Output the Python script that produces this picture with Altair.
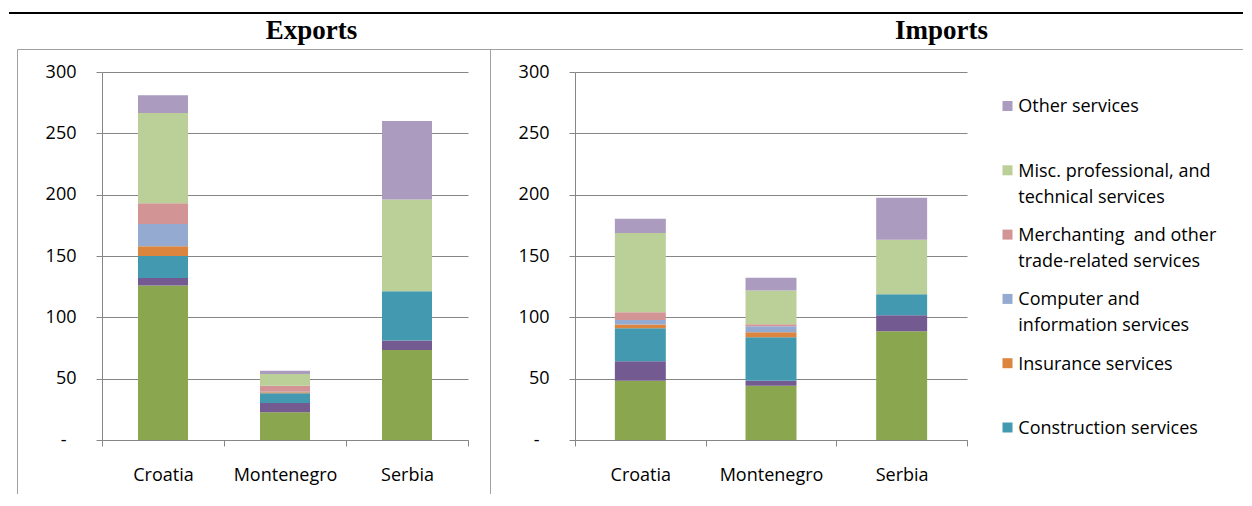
import altair as alt
import pandas as pd

countries = ["Croatia", "Montenegro", "Serbia"]

series = [
    "Manufacturing services",
    "Maintenance and repair services",
    "Construction services",
    "Insurance services",
    "Computer and information services",
    "Merchanting and other trade-related services",
    "Misc. professional, and technical services",
    "Other services",
]
colors = ["#8AA64E", "#735A91", "#4399B0", "#DC853E", "#94AAD0", "#D29494", "#BBCF98", "#AA9BBF"]

# values bottom -> top, one list per country
exports_croatia = [126.0, 6.0, 18.0, 8.0, 18.0, 17.0, 73.5, 14.5]
exports_montenegro = [22.6, 7.6, 7.9, 0.8, 0.4, 5.0, 9.5, 2.7]
exports_serbia = [73.4, 7.7, 40.2, 0.0, 0.0, 0.0, 74.8, 64.0]

imports_croatia = [48.4, 15.8, 26.9, 3.0, 3.8, 6.3, 64.5, 11.7]
imports_montenegro = [44.3, 4.1, 35.4, 4.1, 4.9, 1.6, 27.5, 10.3]
imports_serbia = [88.7, 13.0, 17.2, 0.0, 0.0, 0.0, 44.3, 34.3]

y_ticks = [0, 50, 100, 150, 200, 250, 300]

legend_series = series[7:1:-1]
legend_labels = [
    "Other services",
    "Misc. professional, and\ntechnical services",
    "Merchanting\u00a0 and other\ntrade-related services",
    "Computer and\ninformation services",
    "Insurance services",
    "Construction services",
]

FONT = "Open Sans"
GRAY = "#868686"


def long_df(rows):
    recs = []
    for country, vals in zip(countries, rows):
        for i, (s, v) in enumerate(zip(series, vals)):
            if v > 0:
                recs.append({"country": country, "series": s, "idx": i, "value": v})
    return pd.DataFrame(recs)


exp_df = long_df([exports_croatia, exports_montenegro, exports_serbia])
imp_df = long_df([imports_croatia, imports_montenegro, imports_serbia])
leg_df = pd.DataFrame({"series": legend_series, "label": legend_labels})
one = pd.DataFrame({"a": [0]})

color_scale = alt.Scale(domain=series, range=colors)


def bars(df, band):
    return alt.Chart(df).mark_bar(width=alt.RelativeBandSize(band)).encode(
        x=alt.X(
            "country:N",
            sort=countries,
            scale=alt.Scale(paddingInner=0, paddingOuter=0),
            axis=alt.Axis(
                title=None, labelAngle=0, tickBand="extent", tickSize=6,
                labelPadding=20, domainColor=GRAY, tickColor=GRAY,
                labelFont=FONT, labelFontSize=18, labelColor="black", grid=False,
            ),
        ),
        y=alt.Y(
            "value:Q",
            stack="zero",
            scale=alt.Scale(domain=[0, 300], nice=False),
            axis=alt.Axis(
                title=None, values=y_ticks,
                labelExpr="datum.value == 0 ? '-' : datum.label",
                grid=True, gridColor=GRAY, domainColor=GRAY, tickColor=GRAY,
                tickSize=6, labelFont=FONT, labelFontSize=18, labelColor="black",
                labelPadding={"condition": {"test": "datum.value === 0", "value": 30}, "value": 20},
            ),
        ),
        color=alt.Color("series:N", scale=color_scale, legend=None),
        order=alt.Order("idx:Q", sort="ascending"),
    )


def title_text(txt, x):
    return alt.Chart(one).mark_text(
        text=txt, font="Liberation Serif", fontSize=27, fontWeight="bold",
        align="center", baseline="alphabetic", color="black",
    ).encode(x=alt.value(x), y=alt.value(-32.7))


def rule(x, x2, y, y2, color, w):
    return alt.Chart(one).mark_rule(color=color, strokeWidth=w).encode(
        x=alt.value(x), x2=alt.value(x2), y=alt.value(y), y2=alt.value(y2)
    )


left = alt.layer(
    bars(exp_df, 0.41),
    title_text("Exports", 209.5),
    rule(-93, 1141, -59, -59, "black", 2),
    rule(-84.5, 1141, -22.5, -22.5, "#A0A0A0", 1),
    rule(-84.5, -84.5, -22.5, 422, "#A0A0A0", 1),
    rule(388.5, 388.5, -22.5, 422, "#A0A0A0", 1),
).properties(width=366, height=368)

leg_y = alt.Y(
    "series:N", sort=legend_series, axis=None,
    scale=alt.Scale(type="point", range=[34, 355.5], padding=0),
)

legend_sq = alt.Chart(leg_df).mark_square(size=100, opacity=1).encode(
    x=alt.value(432.5),
    y=leg_y,
    color=alt.Color("series:N", scale=color_scale, legend=None),
)
legend_txt = alt.Chart(leg_df).mark_text(
    align="left", baseline="alphabetic", dy=6.4, lineBreak="\n", lineHeight=26,
    font=FONT, fontSize=18, color="black",
).encode(x=alt.value(443.3), y=leg_y, text="label:N")

right = alt.layer(
    bars(imp_df, 0.39),
    title_text("Imports", 366.5),
    legend_sq,
    legend_txt,
).resolve_scale(y="independent").properties(width=392, height=368)

chart = alt.hconcat(left, right, spacing=107, bounds="flush").properties(
    padding={"left": 0, "top": 4, "right": 0, "bottom": 0}
).configure_view(stroke=None)

chart.save("out.html", embed_options={"renderer": "svg", "actions": False})
